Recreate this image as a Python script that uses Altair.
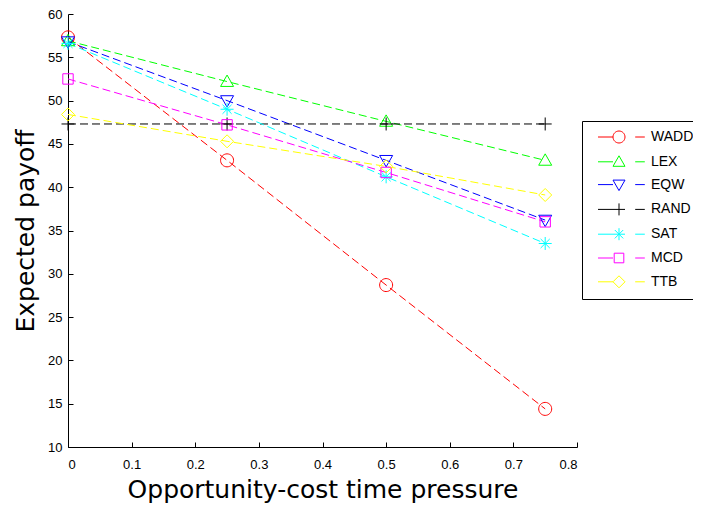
import altair as alt
import pandas as pd

pressure = [0, 0.25, 0.5, 0.75]
heuristics = ["WADD", "LEX", "EQW", "RAND", "SAT", "MCD", "TTB"]
wadd = [57.3, 43.1, 28.7, 14.4]
lex = [56.9, 52.2, 47.6, 43.1]
eqw = [56.8, 50.0, 43.1, 36.2]
rand = [47.3, 47.3, 47.3, 47.3]
sat = [56.6, 49.0, 41.2, 33.5]
mcd = [52.5, 47.2, 41.7, 36.0]
ttb = [48.4, 45.3, 42.4, 39.1]
colors = ["#ff0000", "#00ff00", "#0000ff", "#000000", "#00ffff", "#ff00ff", "#ffff00"]
x_ticks = [0, 0.1, 0.2, 0.3, 0.4, 0.5, 0.6, 0.7, 0.8]
y_ticks = [10, 15, 20, 25, 30, 35, 40, 45, 50, 55, 60]

series = [wadd, lex, eqw, rand, sat, mcd, ttb]
rows = []
for name, vals in zip(heuristics, series):
    for x, v in zip(pressure, vals):
        rows.append({"Heuristic": name, "pressure": x, "payoff": v})
df = pd.DataFrame(rows)

# marker glyphs (unit paths, MATLAB-like)
marker = {
    "WADD": "M1,0A1,1,0,1,1,-1,0A1,1,0,1,1,1,0Z",
    "LEX": "M0,-1L1,0.75L-1,0.75Z",
    "EQW": "M0,1L1,-0.75L-1,-0.75Z",
    "RAND": "M-1,0L1,0M0,-1L0,1",
    "SAT": "M-1,0L1,0M0,-1L0,1M-0.7,-0.7L0.7,0.7M-0.7,0.7L0.7,-0.7",
    "MCD": "M-0.8,-0.8L0.8,-0.8L0.8,0.8L-0.8,0.8Z",
    "TTB": "M0,-1L1,0L0,1L-1,0Z",
}
line_sample = "M-3.5,0L-1,0M2.7,0L4.3,0"
legend_shape = [line_sample + marker[h] for h in heuristics]

W, H = 509, 433
xscale = alt.Scale(domain=[0, 0.8], nice=False)
yscale = alt.Scale(domain=[10, 60], nice=False)
cscale = alt.Scale(domain=heuristics, range=colors)

# main axes: labels + titles, no ticks
xaxis_main = alt.Axis(
    values=x_ticks, format="~g", orient="bottom",
    title="Opportunity-cost time pressure", grid=False,
    ticks=False, labelPadding=11, titlePadding=6,
)
yaxis_main = alt.Axis(
    values=y_ticks, orient="left",
    title="Expected payoff", grid=False,
    ticks=False, labelPadding=6, titlePadding=9,
)
# inward ticks: opposite-oriented axes moved onto the main axis lines
xaxis_ticks = alt.Axis(
    values=x_ticks, orient="top", offset=-H, labels=False, domain=False,
    title=None, grid=False, ticks=True, tickSize=5,
)
yaxis_ticks = alt.Axis(
    values=y_ticks, orient="right", offset=-W, labels=False, domain=False,
    title=None, grid=False, ticks=True, tickSize=5,
)

lines = alt.Chart(df).mark_line(strokeDash=[8, 4], strokeWidth=1).encode(
    x=alt.X("pressure:Q", scale=xscale, axis=xaxis_main),
    y=alt.Y("payoff:Q", scale=yscale, axis=yaxis_main),
    color=alt.Color("Heuristic:N", scale=cscale, legend=None),
    detail="Heuristic:N",
)

points = alt.Chart(df).mark_point(filled=False, strokeWidth=1, size=169, opacity=1).encode(
    x=alt.X("pressure:Q", scale=xscale, axis=xaxis_ticks),
    y=alt.Y("payoff:Q", scale=yscale, axis=yaxis_ticks),
    color=alt.Color("Heuristic:N", scale=cscale, legend=None),
    shape=alt.Shape("Heuristic:N",
                    scale=alt.Scale(domain=heuristics, range=[marker[h] for h in heuristics]),
                    legend=None),
)

leg = alt.Legend(
    title=None,
    orient="none", legendX=514, legendY=107,
    padding=9, strokeColor="black", fillColor="white",
    symbolSize=144, symbolStrokeWidth=1, symbolOffset=21,
    labelOffset=25, rowPadding=8.8,
    labelFont="Liberation Sans", labelFontSize=14, labelColor="black",
    labelLimit=300, symbolOpacity=1,
)

legend_layer = alt.Chart(df).transform_filter("datum.payoff < 0").mark_point(
    filled=False, strokeWidth=1, opacity=1
).encode(
    x=alt.X("pressure:Q", scale=xscale, axis=None),
    y=alt.Y("payoff:Q", scale=yscale, axis=None),
    color=alt.Color("Heuristic:N", scale=cscale, legend=leg),
    shape=alt.Shape("Heuristic:N", scale=alt.Scale(domain=heuristics, range=legend_shape), legend=leg),
)

chart = alt.layer(lines, points, legend_layer).resolve_axis(
    x="independent", y="independent"
).resolve_scale(color="independent", shape="independent").properties(
    width=W, height=H,
    autosize=alt.AutoSizeParams(type="none"),
    padding={"left": 60, "top": 6, "right": 116, "bottom": 58},
).configure_view(stroke=None).configure_axis(
    domainColor="#000000", tickColor="#000000", domainWidth=1, tickWidth=1,
    labelFont="Liberation Sans", labelFontSize=13, labelColor="black",
    titleFont="DejaVu Sans", titleFontSize=25, titleFontWeight="normal", titleColor="black",
)

chart.save("out.html", embed_options={"renderer": "svg", "actions": False})
